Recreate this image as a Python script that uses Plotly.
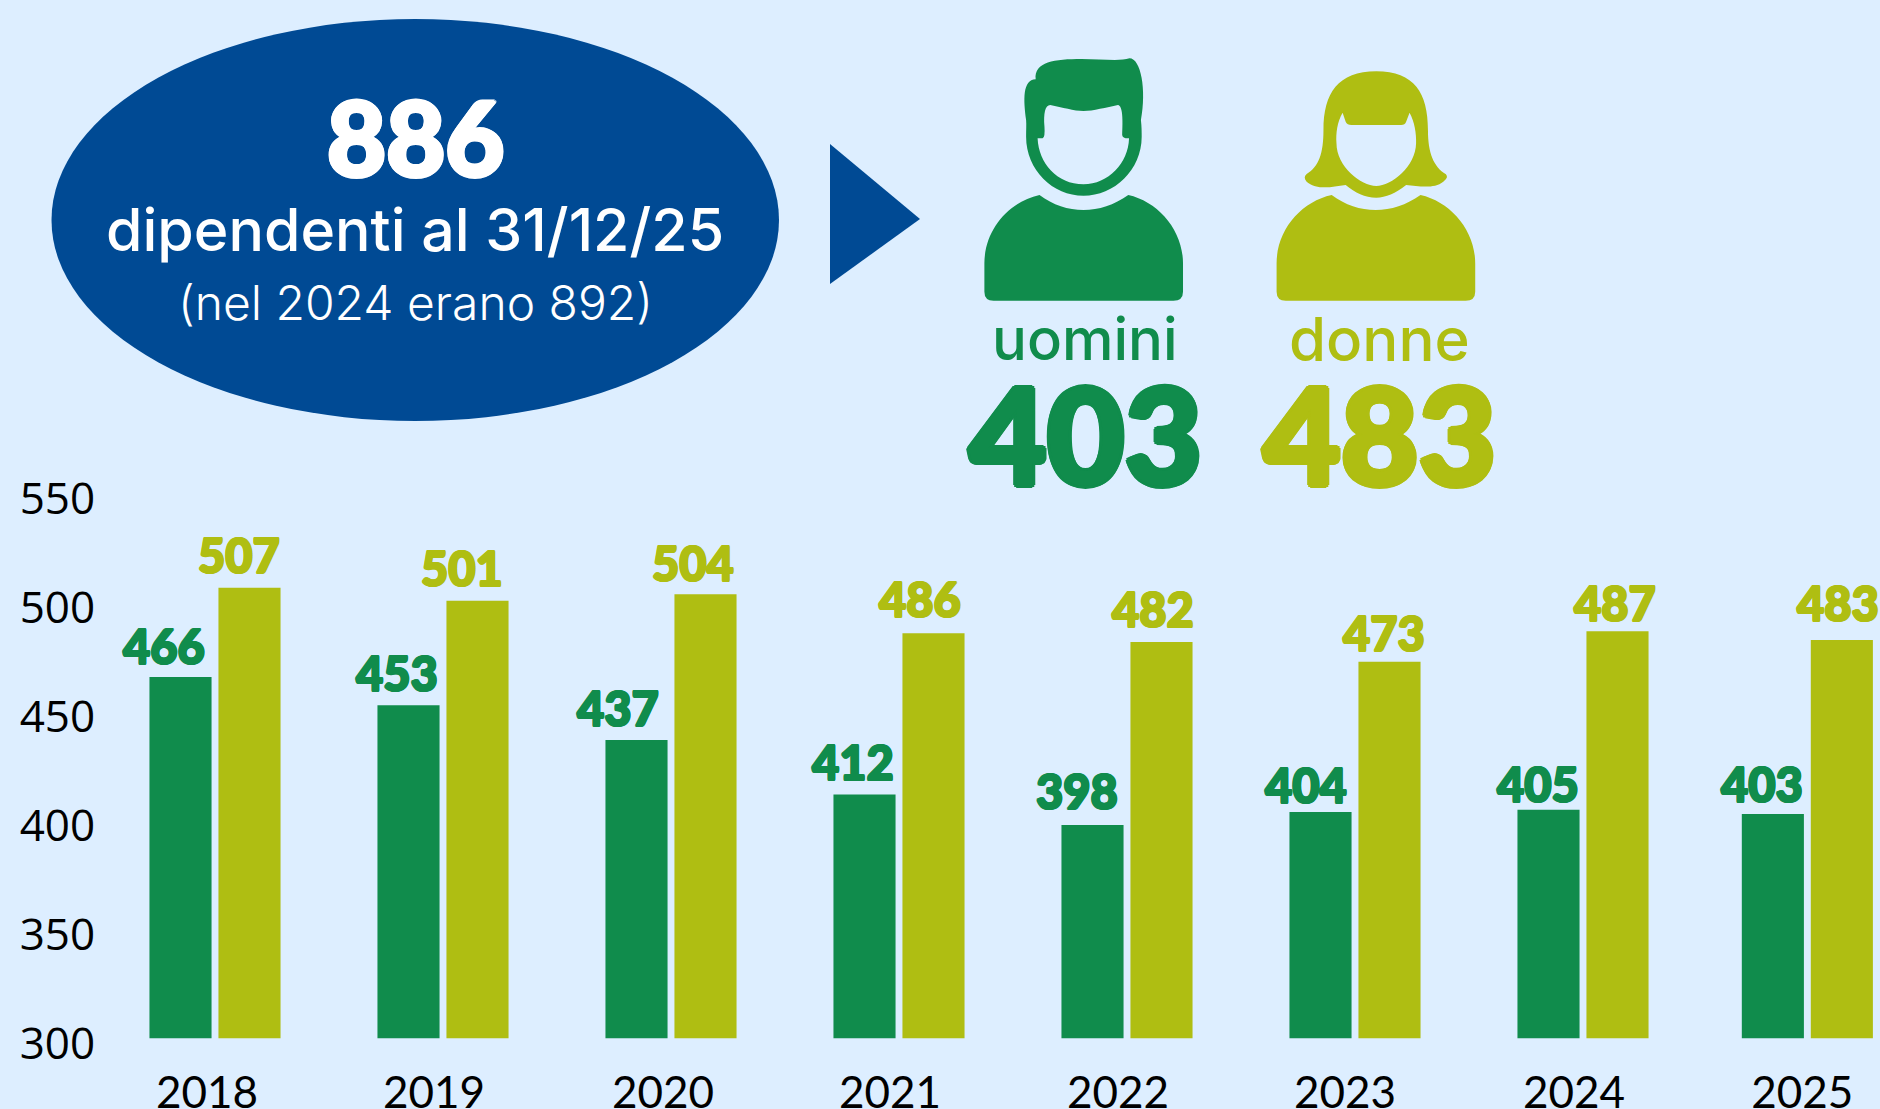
import re
import plotly.graph_objects as go

# ---------- data ----------
years = [2018, 2019, 2020, 2021, 2022, 2023, 2024, 2025]
uomini = [466, 453, 437, 412, 398, 404, 405, 403]
donne = [507, 501, 504, 486, 482, 473, 487, 483]
y_ticks = [300, 350, 400, 450, 500, 550]

# ---------- style ----------
W, H = 1880, 1109
BG = "#ddeeff"
GREEN = "#108c4c"
OLIVE = "#afbe12"
BLUE = "#004a94"
F_TICK = "Open Sans"
F_YEAR = "Lato"
F_HEAD = "Lato Black, Lato"
F_LIGHT = "Inter"

# x drift of the last group, and hand-placed label offsets in pixels
group_drift = [0, 0, 0, 0, 0, 0, 0, -0.016]
year_label_shift = [-8, -9, -8, -9, -9, -10, -9, -5]
u_dx = [-16, -11, -18, -11, -15, -14, -10, -10]
d_dx = [-11, -16, -13, -14, -9, -6, -3, -4]
u_dy = [31, 32, 32, 33, 34, 27, 26, 30]
d_dy = [33, 33, 31, 34, 33, 29, 28, 37]

PX_PER_YEAR = 228.0
LEFT = 109.0
xs = [y + d for y, d in zip(years, group_drift)]
x0 = 2018 - (215.0 - LEFT) / PX_PER_YEAR
x1 = x0 + (W - LEFT) / PX_PER_YEAR
PX_BASE, PX_TOP = 1038.4, 494.0


def px(x):
    return x / W


def py(y):
    return 1 - y / H


def thick(color, w):
    """Text shadow that fattens glyphs: no installed font is as heavy as the reference."""
    return ",".join(f"{a * w}px {b * w}px 0 {color}" for a, b in
                    [(1, 0), (-1, 0), (0, 1), (0, -1), (.7, .7), (-.7, .7), (.7, -.7), (-.7, -.7)])


def conv(path, dx=0):
    """Zoomed-crop icon outline -> paper coordinates."""
    nums = iter(re.findall(r"[A-Za-z]|-?\d+\.?\d*", path))
    out, is_x = [], True
    for tok in nums:
        if tok.isalpha():
            out.append(tok)
            is_x = True
        elif is_x:
            out.append(f"{px(940 + (float(tok) + dx) / 2.613):.5f}")
            is_x = False
        else:
            out.append(f"{py(30 + float(tok) / 3):.5f}")
            is_x = True
    return " ".join(out)


BODY = ("M260 495 C295 525 335 540 375 540 C415 540 455 525 492 495 "
        "C570 515 635 600 635 700 L635 785 Q635 812 610 812 L140 812 "
        "Q116 812 116 785 L116 700 C116 600 180 515 260 495 Z")
MAN = ("M225 270 C218 210 215 150 250 148 C245 95 300 87 370 87 "
       "C420 87 470 95 495 85 C525 85 540 180 525 270 C527 290 527 305 527 320 "
       "C527 420 455 497 375 497 C295 497 225 420 225 320 C225 300 226 285 225 270 Z "
       "M255 325 L268 325 Q275 322 273 290 C270 250 275 225 288 225 "
       "C320 232 350 243 375 243 C400 243 435 232 465 225 C478 228 478 270 476 315 "
       "Q477 326 494 325 C492 400 440 463 375 463 C305 463 258 400 255 325 Z")
WOMAN = ("M1140 124 C1240 124 1275 190 1275 300 C1275 370 1290 410 1322 433 "
         "Q1330 443 1315 455 C1290 478 1250 468 1218 465 C1190 490 1165 503 1140 503 "
         "C1110 503 1085 488 1060 465 C1020 472 985 480 958 455 Q948 442 958 432 "
         "C990 410 1002 370 1002 300 C1002 190 1040 124 1140 124 Z "
         "M1052 248 L1060 275 Q1064 285 1075 285 L1205 285 Q1215 285 1218 275 L1227 248 "
         "C1240 275 1245 310 1244 340 C1243 410 1180 468 1140 468 "
         "C1100 468 1036 410 1036 340 C1034 310 1038 275 1052 248 Z")

fig = go.Figure()
fig.add_bar(x=xs, y=[v - 300 for v in uomini], base=300, name="uomini",
            marker=dict(color=GREEN, line_width=0), hoverinfo="skip")
fig.add_bar(x=xs, y=[v - 300 for v in donne], base=300, name="donne",
            marker=dict(color=OLIVE, line_width=0), hoverinfo="skip")

shapes = [
    dict(type="circle", xref="paper", yref="paper", x0=px(51.5), x1=px(779), y0=py(421), y1=py(19),
         fillcolor=BLUE, line_width=0, layer="below"),
    dict(type="path", xref="paper", yref="paper",
         path=f"M{px(830)} {py(144)} L{px(920)} {py(219)} L{px(830)} {py(284)} Z",
         fillcolor=BLUE, line_width=0),
    dict(type="path", xref="paper", yref="paper", path=conv(BODY), fillcolor=GREEN, line_width=0),
    dict(type="path", xref="paper", yref="paper", path=conv(MAN), fillcolor=GREEN, line_width=0),
    dict(type="path", xref="paper", yref="paper", path=conv(BODY, 763.5), fillcolor=OLIVE, line_width=0),
    dict(type="path", xref="paper", yref="paper", path=conv(WOMAN), fillcolor=OLIVE, line_width=0),
]


def head(text, cx, cy, size, color, weight=400, family=F_HEAD, fat=0):
    font = dict(family=family, size=size, color=color, weight=weight)
    if fat:
        font["shadow"] = thick(color, fat)
    return dict(xref="paper", yref="paper", x=px(cx), y=py(cy), text=text, showarrow=False,
                xanchor="center", yanchor="middle", font=font)


annotations = [
    head("886", 415, 136, 102, "white", 900, fat=2),
    head("dipendenti al 31/12/25", 415, 230, 59, "white", 500, F_LIGHT),
    head("(nel 2024 erano 892)", 415, 302, 48, "white", 300, F_LIGHT),
    head("uomini", 1085, 339, 58, GREEN, 500, F_LIGHT),
    head("donne", 1379, 339, 60, OLIVE, 500, F_LIGHT),
    head("403", 1085, 434, 134, GREEN, 900, fat=3),
    head("483", 1379, 434, 134, OLIVE, 900, fat=3),
]

BAR_OFFSET = 35.0  # half of a bar slot, px
for i, x in enumerate(xs):
    annotations.append(dict(x=x, y=uomini[i], xref="x", yref="y", text=str(uomini[i]), showarrow=False,
                            xshift=-BAR_OFFSET + u_dx[i], yshift=u_dy[i],
                            font=dict(family=F_HEAD, size=47, color=GREEN, weight=900,
                                      shadow=thick(GREEN, 1))))
    annotations.append(dict(x=x, y=donne[i], xref="x", yref="y", text=str(donne[i]), showarrow=False,
                            xshift=BAR_OFFSET + d_dx[i], yshift=d_dy[i],
                            font=dict(family=F_HEAD, size=47, color=OLIVE, weight=900,
                                      shadow=thick(OLIVE, 1))))

fig.update_layout(
    width=W, height=H, autosize=False,
    margin=dict(l=0, r=0, t=0, b=0, pad=0),
    paper_bgcolor=BG, plot_bgcolor=BG,
    showlegend=False, barmode="group", bargap=0.385, bargroupgap=0.1,
    shapes=shapes, annotations=annotations,
    xaxis=dict(domain=[LEFT / W, 1], range=[x0, x1], tickmode="array", automargin=False,
               tickvals=[x + s / PX_PER_YEAR for x, s in zip(xs, year_label_shift)],
               ticktext=[str(y) for y in years],
               tickfont=dict(family=F_YEAR, size=44, color="#000000"),
               ticks="outside", ticklen=16, tickcolor="rgba(0,0,0,0)", showgrid=False,
               zeroline=False, showline=False),
    yaxis=dict(domain=[py(PX_BASE), py(PX_TOP)], range=[300, 550], tickmode="array", automargin=False,
               tickvals=y_ticks, ticktext=[str(t) for t in y_ticks],
               tickfont=dict(family=F_TICK, size=44, color="#000000"),
               ticklabelshift=5,
               ticks="outside", ticklen=4, tickcolor="rgba(0,0,0,0)", showgrid=False,
               zeroline=False, showline=False),
)

fig.write_html("out.html", config=dict(displayModeBar=False),
               post_script="document.body.style.margin='0';document.body.style.overflow='hidden';")
